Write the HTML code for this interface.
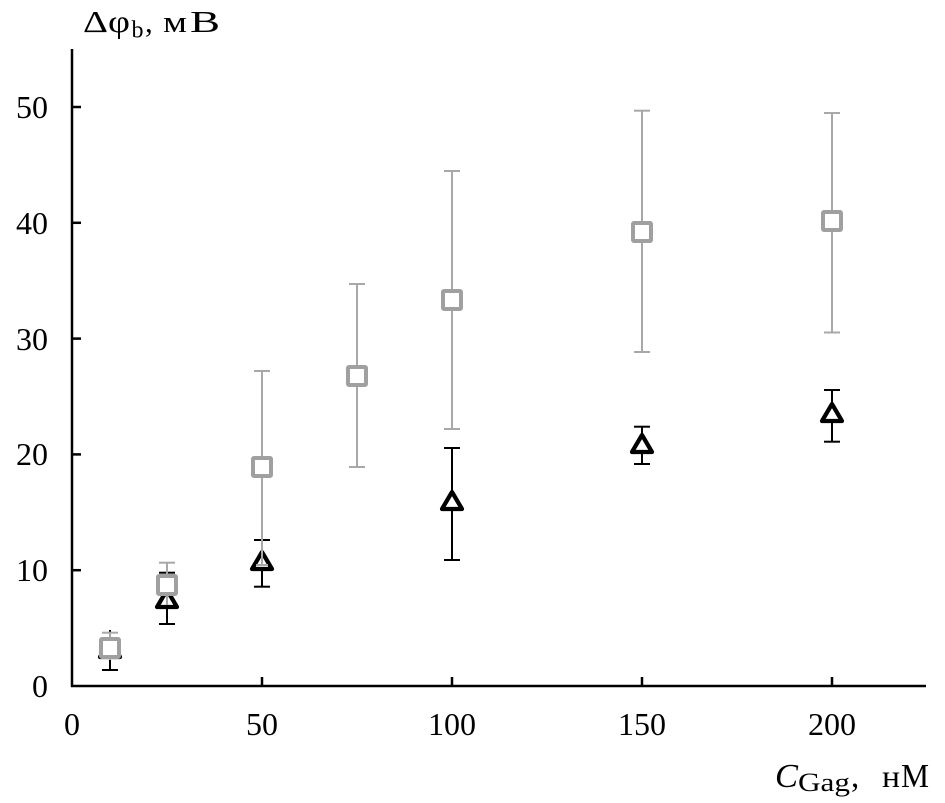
<!DOCTYPE html>
<html>
<head>
<meta charset="utf-8">
<style>
  html, body { margin: 0; padding: 0; background: #fff; }
  svg { display: block; }
  text { font-family: "Liberation Serif", "DejaVu Serif", serif; fill: #000; }
</style>
</head>
<body>
<svg width="945" height="803" viewBox="0 0 945 803" xmlns="http://www.w3.org/2000/svg">
  <!-- axes -->
  <g stroke="#000" stroke-width="2.5" fill="none">
    <line x1="72" y1="49" x2="72" y2="687"/>
    <line x1="71" y1="686" x2="926" y2="686"/>
    <!-- y ticks -->
    <line x1="72" y1="570.2" x2="81" y2="570.2"/>
    <line x1="72" y1="454.4" x2="81" y2="454.4"/>
    <line x1="72" y1="338.6" x2="81" y2="338.6"/>
    <line x1="72" y1="222.8" x2="81" y2="222.8"/>
    <line x1="72" y1="107" x2="81" y2="107"/>
    <!-- x ticks -->
    <line x1="262" y1="686" x2="262" y2="677"/>
    <line x1="452" y1="686" x2="452" y2="677"/>
    <line x1="642" y1="686" x2="642" y2="677"/>
    <line x1="832" y1="686" x2="832" y2="677"/>
  </g>

  <!-- y tick labels -->
  <g font-size="32" text-anchor="end">
    <text x="48" y="697">0</text>
    <text x="48" y="581">10</text>
    <text x="48" y="465">20</text>
    <text x="48" y="350">30</text>
    <text x="48" y="234">40</text>
    <text x="48" y="118">50</text>
  </g>
  <!-- x tick labels -->
  <g font-size="32" text-anchor="middle">
    <text x="72" y="735">0</text>
    <text x="262" y="735">50</text>
    <text x="452" y="735">100</text>
    <text x="642" y="735">150</text>
    <text x="832" y="735">200</text>
  </g>

  <!-- y axis title -->
  <text x="83" y="32" font-size="31" textLength="25" lengthAdjust="spacingAndGlyphs">Δ</text>
  <text x="108" y="32" font-size="32" textLength="22" lengthAdjust="spacingAndGlyphs">φ</text>
  <text x="131.5" y="37.5" font-size="24" textLength="12" lengthAdjust="spacingAndGlyphs">b</text>
  <text x="145" y="32" font-size="31">,</text>
  <text x="163" y="32" font-size="31" textLength="24" lengthAdjust="spacingAndGlyphs">м</text>
  <text x="190" y="32" font-size="31" textLength="30" lengthAdjust="spacingAndGlyphs">В</text>

  <!-- x axis title -->
  <text x="775" y="787" font-size="34" font-style="italic" textLength="23" lengthAdjust="spacingAndGlyphs">C</text>
  <text x="798" y="791" font-size="26" textLength="52" lengthAdjust="spacingAndGlyphs">Gag</text>
  <text x="851" y="787" font-size="33">,</text>
  <text x="882" y="787" font-size="32" textLength="18" lengthAdjust="spacingAndGlyphs">н</text>
  <text x="901" y="787" font-size="34" textLength="28" lengthAdjust="spacingAndGlyphs">М</text>

  <!-- Black triangle series: error bars -->
  <g stroke="#000" stroke-width="2" fill="none">
    <line x1="110" y1="630" x2="110" y2="670"/>
    <line x1="102" y1="670" x2="118" y2="670"/>
    <line x1="167" y1="572.7" x2="167" y2="624"/>
    <line x1="159" y1="572.7" x2="175" y2="572.7"/>
    <line x1="159" y1="624" x2="175" y2="624"/>
    <line x1="262" y1="540" x2="262" y2="586.7"/>
    <line x1="254" y1="540" x2="270" y2="540"/>
    <line x1="254" y1="586.7" x2="270" y2="586.7"/>
    <line x1="452" y1="448" x2="452" y2="560"/>
    <line x1="444" y1="448" x2="460" y2="448"/>
    <line x1="444" y1="560" x2="460" y2="560"/>
    <line x1="642" y1="426.7" x2="642" y2="464"/>
    <line x1="634" y1="426.7" x2="650" y2="426.7"/>
    <line x1="634" y1="464" x2="650" y2="464"/>
    <line x1="832" y1="390" x2="832" y2="441.7"/>
    <line x1="824" y1="390" x2="840" y2="390"/>
    <line x1="824" y1="441.7" x2="840" y2="441.7"/>
  </g>
  <!-- triangles -->
  <g stroke="#000" stroke-width="4.2" fill="#fff" stroke-linejoin="round">
    <path d="M110 640 L120 657 L100 657 Z"/>
    <path d="M167 590 L177 607 L157 607 Z"/>
    <path d="M262 552 L272 569 L252 569 Z"/>
    <path d="M452 492 L462 509 L442 509 Z"/>
    <path d="M642 435 L652 452 L632 452 Z"/>
    <path d="M832 404 L842 421 L822 421 Z"/>
  </g>

  <!-- Gray square series: error bars -->
  <g stroke="#a8a8a8" stroke-width="2" fill="none">
    <line x1="110" y1="632.7" x2="110" y2="660"/>
    <line x1="102" y1="632.7" x2="118" y2="632.7"/>
    <line x1="167" y1="562.7" x2="167" y2="605"/>
    <line x1="159" y1="562.7" x2="175" y2="562.7"/>
    <line x1="262" y1="371" x2="262" y2="565"/>
    <line x1="254" y1="371" x2="270" y2="371"/>
    <line x1="256" y1="565" x2="268" y2="565"/>
    <line x1="357" y1="284" x2="357" y2="467"/>
    <line x1="349" y1="284" x2="365" y2="284"/>
    <line x1="349" y1="467" x2="365" y2="467"/>
    <line x1="452" y1="171" x2="452" y2="429"/>
    <line x1="444" y1="171" x2="460" y2="171"/>
    <line x1="444" y1="429" x2="460" y2="429"/>
    <line x1="642" y1="110.7" x2="642" y2="352"/>
    <line x1="634" y1="110.7" x2="650" y2="110.7"/>
    <line x1="634" y1="352" x2="650" y2="352"/>
    <line x1="832" y1="113" x2="832" y2="332.5"/>
    <line x1="824" y1="113" x2="840" y2="113"/>
    <line x1="824" y1="332.5" x2="840" y2="332.5"/>
  </g>
  <!-- squares -->
  <g stroke="#a0a0a0" stroke-width="4" fill="#fff" stroke-linejoin="round">
    <rect x="101" y="639" width="18" height="18" rx="1"/>
    <rect x="158" y="576" width="18" height="18" rx="1"/>
    <rect x="253" y="458" width="18" height="18" rx="1"/>
    <rect x="348" y="367" width="18" height="18" rx="1"/>
    <rect x="443" y="291" width="18" height="18" rx="1"/>
    <rect x="633" y="223" width="18" height="18" rx="1"/>
    <rect x="823" y="212" width="18" height="18" rx="1"/>
  </g>
</svg>
</body>
</html>
